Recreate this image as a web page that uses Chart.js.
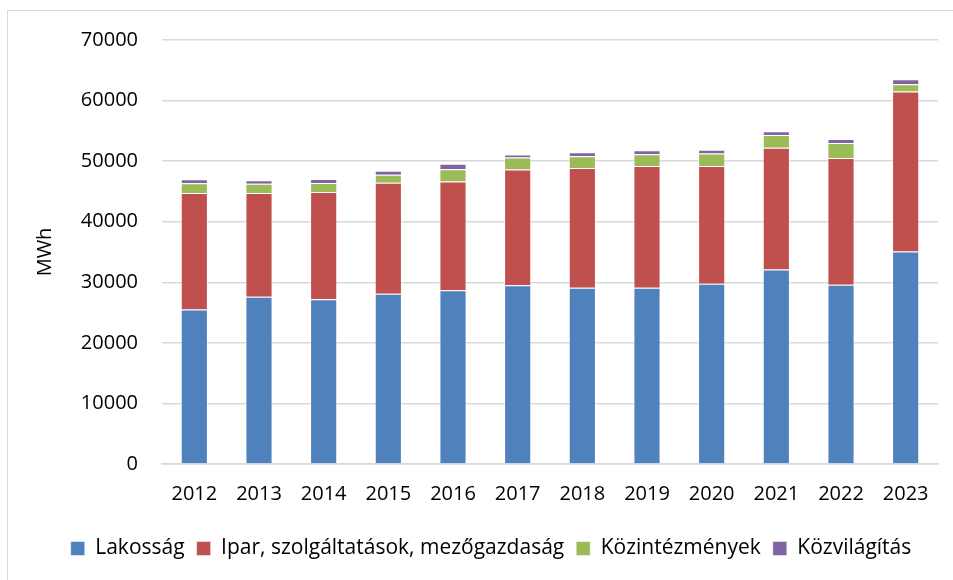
<!DOCTYPE html>
<html lang="hu">
<head>
<meta charset="utf-8">
<title>Villamosenergia-fogyasztás</title>
<script src="https://cdn.jsdelivr.net/npm/chart.js@4"></script>
<style>
  html, body { margin: 0; padding: 0; background: #fff; }
  .frame {
    position: absolute; left: 7px; top: 10px;
    width: 960px; height: 600px;
    border: 1px solid #d9d9d9;
  }
  .wrap { position: absolute; left: 0; top: 0; width: 953px; height: 580px; }
</style>
</head>
<body>
<div class="frame"></div>
<div class="wrap"><canvas id="energyChart" width="953" height="580"></canvas></div>
<script>
const years = ['2012', '2013', '2014', '2015', '2016', '2017', '2018', '2019', '2020', '2021', '2022', '2023'];

// MWh
const lakossag = [25500, 27600, 27200, 28100, 28700, 29500, 29100, 29100, 29750, 32100, 29600, 35100];
const ipar = [19230, 17130, 17700, 18350, 17950, 19100, 19750, 20100, 19450, 20100, 20900, 26400];
const kozintezmenyek = [1600, 1550, 1500, 1320, 2030, 2000, 1950, 1950, 2050, 2100, 2500, 1200];
const kozvilagitas = [670, 550, 650, 660, 890, 500, 650, 650, 650, 650, 650, 800];

const yTicks = [0, 10000, 20000, 30000, 40000, 50000, 60000, 70000];

const FONT = '"Open Sans", Lato, sans-serif';

function series(label, data, color) {
  return {
    label,
    data,
    backgroundColor: color,
    borderColor: 'rgba(255,255,255,0.45)',
    borderWidth: 1,
    barPercentage: 0.84,
    categoryPercentage: 0.5,
  };
}

new Chart(document.getElementById('energyChart'), {
  type: 'bar',
  data: {
    labels: years,
    datasets: [
      series('Lakosság', lakossag, '#4F81BD'),
      series('Ipar, szolgáltatások, mezőgazdaság', ipar, '#C0504D'),
      series('Közintézmények', kozintezmenyek, '#9BBB59'),
      series('Közvilágítás', kozvilagitas, '#8064A2'),
    ],
  },
  options: {
    responsive: false,
    animation: false,
    // left padding keeps the legend centred where the original has it
    layout: { padding: { top: 40, right: 15, bottom: 11, left: 44 } },
    plugins: {
      legend: {
        position: 'bottom',
        labels: {
          color: '#000',
          font: { family: FONT, size: 21 },
          boxWidth: 14,
          boxHeight: 14,
          padding: 12,
        },
      },
      tooltip: { enabled: false },
    },
    scales: {
      x: {
        stacked: true,
        grid: { display: false, drawTicks: false },
        border: { color: '#d9d9d9', width: 1.5 },
        ticks: { color: '#000', font: { family: FONT, size: 20 }, padding: 18 },
        afterFit: (scale) => { scale.height = 62; },
      },
      y: {
        stacked: true,
        min: 0,
        max: 70000,
        afterBuildTicks: (scale) => { scale.ticks = yTicks.map((v) => ({ value: v })); },
        grid: { color: '#d9d9d9', lineWidth: 1.5, drawTicks: false },
        border: { display: false },
        ticks: {
          color: '#000',
          font: { family: FONT, size: 20 },
          padding: 24,
          callback: (v) => String(v),
        },
        title: {
          display: true,
          text: 'MWh',
          color: '#000',
          font: { family: FONT, size: 20 },
          padding: { top: -11, bottom: 0 },
        },
        afterFit: (scale) => { scale.width = 118; },
      },
    },
  },
});
</script>
</body>
</html>
